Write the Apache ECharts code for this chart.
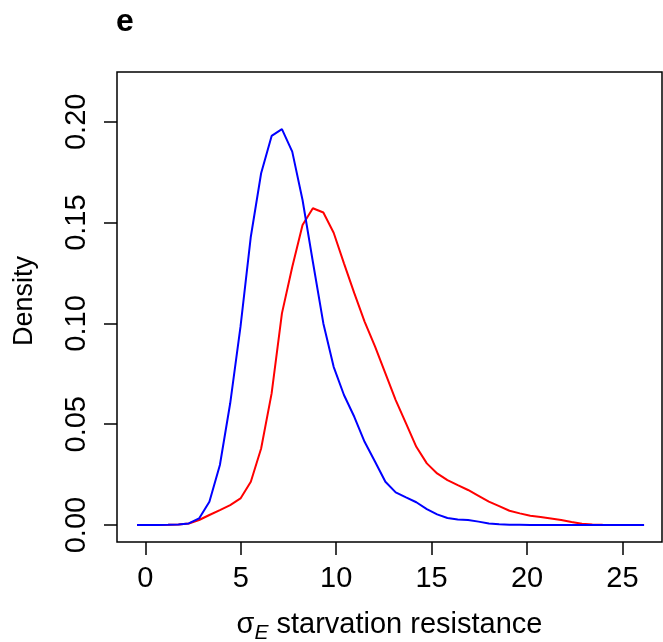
<!DOCTYPE html>
<html>
<head>
<meta charset="utf-8">
<script src="https://cdn.jsdelivr.net/npm/echarts@6/dist/echarts.min.js"></script>
<style>
  html, body { margin: 0; padding: 0; background: #fff; }
  #chart { width: 663px; height: 642px; }
</style>
</head>
<body>
<div id="chart"></div>
<script>
// density grid (x) and the two density curves
const xs = [-0.43, 0.11, 0.65, 1.20, 1.74, 2.28, 2.82, 3.36, 3.91, 4.45,
  4.99, 5.53, 6.07, 6.62, 7.16, 7.70, 8.24, 8.78, 9.33, 9.87,
  10.41, 10.95, 11.49, 12.04, 12.58, 13.12, 13.66, 14.20, 14.75, 15.29,
  15.83, 16.37, 16.91, 17.46, 18.00, 18.54, 19.08, 19.62, 20.17, 20.71,
  21.25, 21.79, 22.33, 22.88, 23.42, 23.96, 24.50, 25.04, 25.59, 26.13]

const blueDensity = [0, 0, 0, 0.0001, 0.0003, 0.0008, 0.0033, 0.0116, 0.0298, 0.0604,
  0.0984, 0.143, 0.1745, 0.193, 0.1964, 0.1852, 0.1612, 0.1306, 0.100, 0.0785,
  0.0645, 0.0537, 0.0413, 0.0314, 0.0215, 0.0162, 0.0137, 0.0113, 0.0079, 0.0053,
  0.0035, 0.0028, 0.0025, 0.0017, 0.0008, 0.0004, 0.0002, 0.0001, 0, 0,
  0, 0, 0, 0, 0, 0, 0, 0, 0, 0]

const redDensity = [0, 0, 0, 0.0001, 0.0003, 0.0008, 0.0025, 0.005, 0.0074, 0.0099,
  0.0132, 0.0215, 0.038, 0.0653, 0.105, 0.128, 0.1488, 0.1571, 0.155, 0.145,
  0.1298, 0.115, 0.1009, 0.0885, 0.0752, 0.062, 0.0504, 0.0388, 0.0306, 0.0256,
  0.0223, 0.0198, 0.0174, 0.0145, 0.0116, 0.0094, 0.0071, 0.0058, 0.0046, 0.004,
  0.0033, 0.0025, 0.0015, 0.0007, 0.0003, 0.0001, 0, 0, 0, 0]

const xTicks = [0, 5, 10, 15, 20, 25]
const yTicks = [0, 0.05, 0.10, 0.15, 0.20]

const font = 'Liberation Sans, Arial, Helvetica, sans-serif'

const chart = echarts.init(document.getElementById('chart'), null, { renderer: 'canvas' })

const option = {
  backgroundColor: '#fff',
  animation: false,
  grid: {
    left: 117,
    top: 72,
    width: 545,
    height: 470,
    show: true,
    borderColor: '#000',
    borderWidth: 1.5,
    backgroundColor: 'transparent',
    containLabel: false,
    outerBoundsMode: 'none'
  },
  xAxis: {
    type: 'value',
    min: -1.48,
    max: 27.07,
    axisLine: { show: false, onZero: false },
    splitLine: { show: false },
    axisTick: {
      show: true,
      length: 13,
      customValues: xTicks,
      lineStyle: { color: '#000', width: 1.5 }
    },
    axisLabel: {
      customValues: xTicks,
      margin: 37,
      verticalAlign: 'middle',
      color: '#000',
      fontSize: 29,
      fontFamily: font
    }
  },
  yAxis: {
    type: 'value',
    min: -0.0084,
    max: 0.2247,
    axisLine: { show: false, onZero: false },
    splitLine: { show: false },
    axisTick: {
      show: true,
      length: 13,
      customValues: yTicks,
      lineStyle: { color: '#000', width: 1.5 }
    },
    axisLabel: {
      customValues: yTicks,
      rotate: 90,
      margin: 40,
      align: 'center',
      verticalAlign: 'middle',
      color: '#000',
      fontSize: 29,
      fontFamily: font,
      formatter: (v) => v.toFixed(2)
    }
  },
  graphic: [
    {
      type: 'text',
      x: 116,
      y: 22,
      style: {
        text: 'e',
        fill: '#000',
        font: 'bold 32px ' + font,
        align: 'left',
        verticalAlign: 'middle'
      }
    },
    {
      type: 'text',
      x: 25,
      y: 301,
      rotation: Math.PI / 2,
      style: {
        text: 'Density',
        fill: '#000',
        font: '27px ' + font,
        align: 'center',
        verticalAlign: 'middle'
      }
    },
    {
      type: 'text',
      x: 389.5,
      y: 610,
      style: {
        text: '{m|σ}{sub|E}{m| starvation resistance}',
        align: 'center',
        verticalAlign: 'top',
        rich: {
          m: { fontSize: 29, lineHeight: 34, fontFamily: font, color: '#000', verticalAlign: 'top' },
          sub: { fontSize: 21, lineHeight: 21, fontFamily: font, fontStyle: 'italic', color: '#000',
            verticalAlign: 'top', padding: [13, 0, 0, 0] }
        }
      }
    }
  ],
  series: [
    {
      name: 'red',
      type: 'line',
      showSymbol: false,
      smooth: false,
      lineStyle: { color: '#ff0000', width: 2 },
      data: xs.map((x, i) => [x, redDensity[i]])
    },
    {
      name: 'blue',
      type: 'line',
      showSymbol: false,
      smooth: false,
      lineStyle: { color: '#0000ff', width: 2 },
      data: xs.map((x, i) => [x, blueDensity[i]])
    }
  ]
}

chart.setOption(option)
</script>
</body>
</html>
